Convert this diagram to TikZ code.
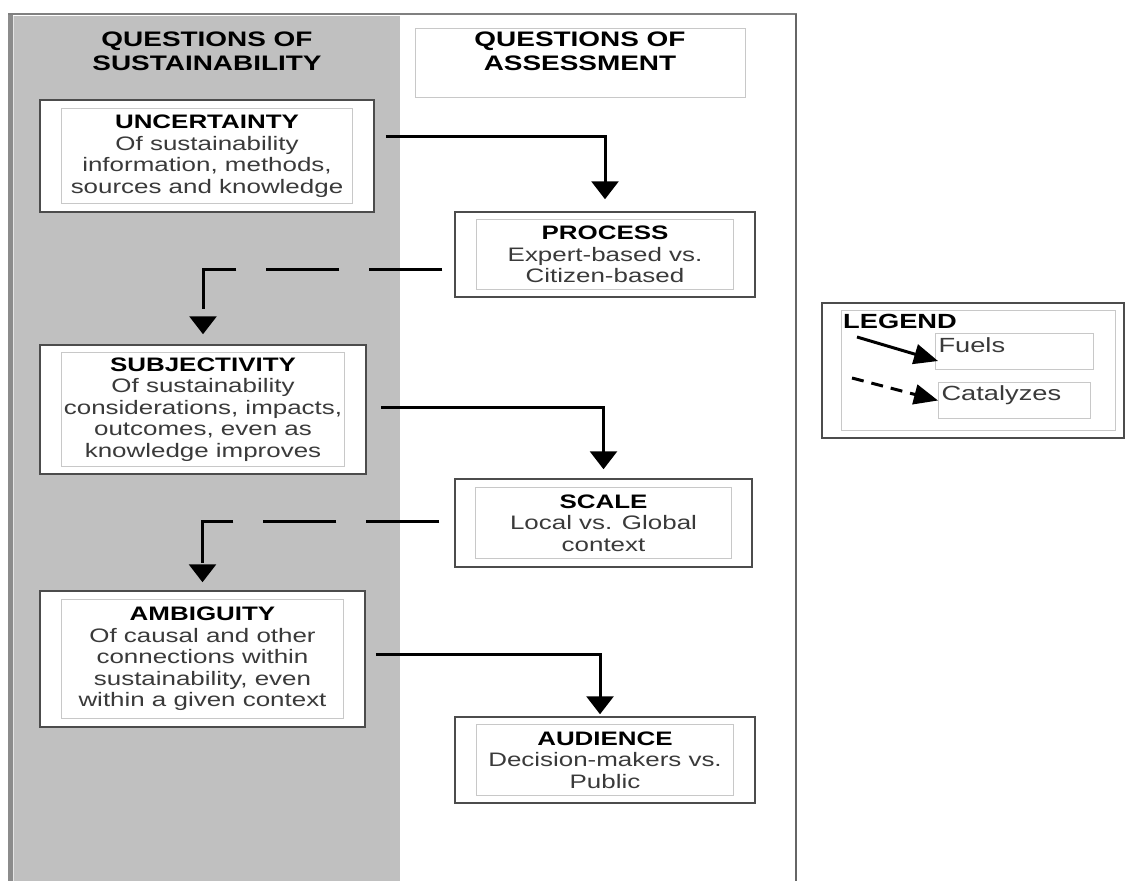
\documentclass[tikz,border=0pt]{standalone}
\usepackage{fontspec}
\setmainfont{Liberation Sans}[FakeStretch=1.33]
\usetikzlibrary{arrows.meta}

\definecolor{panelgray}{HTML}{C0C0C0}
\definecolor{framegray}{HTML}{808080}
\definecolor{linegray}{HTML}{C8C8C8}
\definecolor{textgray}{HTML}{3A3A3A}

\newcommand{\boxhead}[1]{\textcolor{black}{\bfseries #1}}

\tikzset{
  outbox/.style={draw=black!70, line width=1.5pt, fill=white, inner sep=0pt,
    align=center, text=textgray, font=\fontsize{19.5}{21.5}\selectfont},
  inbox/.style={draw=linegray, line width=1pt},
  head/.style={align=center, inner sep=0pt, font=\bfseries\fontsize{21}{24}\selectfont},
  legbox/.style={draw=linegray, line width=1pt, inner xsep=3pt, inner ysep=0pt,
    align=left, text=textgray, font=\fontsize{20.5}{24}\selectfont},
  fuel/.style={line width=3pt, -{Triangle[width=27pt,length=18pt]}},
  catal/.style={fuel, dash pattern=on 73pt off 30pt},
  legfuel/.style={line width=3pt, -{Triangle[width=20pt,length=24pt]}},
  legcat/.style={legfuel, dash pattern=on 12pt off 8pt},
}

\begin{document}
\begin{tikzpicture}[x=1pt, y=-1pt]

  % Page size of the picture
  \useasboundingbox (0,0) rectangle (1126,881);

  % Grey column for the sustainability questions
  \fill[panelgray] (13,16) rectangle (400,881);

  % Frame round both columns
  \draw[line width=5pt, black!45] (10,14) -- (10,881);
  \draw[line width=1.5pt, black!10] (13.5,16) -- (13.5,881);
  \draw[line width=2pt, framegray] (8,14) -- (797,14);
  \draw[line width=2pt, black!60] (796,14) -- (796,881);

  % Column headings
  \node[head, anchor=north] (sust) at (207,32) {QUESTIONS OF\\SUSTAINABILITY};
  \node[head, draw=linegray, line width=1pt, minimum width=330pt, minimum height=69pt,
    text depth=21.7pt] (asmt) at (580,62.5) {QUESTIONS OF\\ASSESSMENT};

  % Left column: questions of sustainability
  \node[outbox, minimum width=334pt, minimum height=112pt] (unc) at (207,156)
    {\boxhead{UNCERTAINTY}\\Of sustainability\\information, methods,\\sources and knowledge};
  \node[outbox, minimum width=326pt, minimum height=129pt] (subj) at (203,409.5)
    {\boxhead{SUBJECTIVITY}\\Of sustainability\\considerations, impacts,\\outcomes, even as\\knowledge improves};
  \node[outbox, minimum width=325pt, minimum height=136pt] (amb) at (202.5,659)
    {\boxhead{AMBIGUITY}\\Of causal and other\\connections within\\sustainability, even\\within a given context};

  % Right column: questions of assessment
  \node[outbox, minimum width=300pt, minimum height=85pt] (proc) at (605,254.5)
    {\boxhead{PROCESS}\\Expert-based vs.\\Citizen-based};
  \node[outbox, minimum width=297pt, minimum height=88pt] (scale) at (603.5,523)
    {\boxhead{SCALE}\\Local vs. Global\\context};
  \node[outbox, minimum width=300pt, minimum height=86pt] (aud) at (605,760)
    {\boxhead{AUDIENCE}\\Decision-makers vs.\\Public};

  % Thin inner frames
  \foreach \n/\dx/\dy in {unc/22/9, subj/22/8, amb/22/9, proc/22/8, scale/21/9, aud/22/8}
    \draw[inbox] ([shift={(\dx pt,-\dy pt)}]\n.north west) rectangle ([shift={(-\dx pt,\dy pt)}]\n.south east);

  % Fuels (solid) and catalyzes (dashed)
  \draw[fuel, shorten <=11pt, shorten >=12pt] ([yshift=20pt]unc.east) -| (proc.north);
  \draw[catal, shorten <=12pt, shorten >=10pt] ([yshift=-15pt]proc.west) -| (subj.north);
  \draw[fuel, shorten <=14pt, shorten >=9pt] ([yshift=2pt]subj.east) -| (scale.north);
  \draw[catal, shorten <=15pt, shorten >=8pt] ([yshift=2pt]scale.west) -| (amb.north);
  \draw[fuel, shorten <=10pt, shorten >=2pt] ([yshift=5pt]amb.east) -| ([xshift=-5pt]aud.north);

  % Legend
  \node[draw=black!70, line width=1.5pt, fill=white, minimum width=302pt, minimum height=135pt]
    (legend) at (973,370.5) {};
  \draw[inbox] ([shift={(20pt,-8pt)}]legend.north west) rectangle ([shift={(-9pt,8pt)}]legend.south east);
  \node[anchor=base west, inner sep=0pt, font=\bfseries\fontsize{20.5}{24}\selectfont]
    (legtitle) at (843,328) {LEGEND};
  \node[legbox, anchor=north west, text width=152pt, text height=19pt, text depth=17pt]
    (fuels) at (935,333) {Fuels};
  \node[legbox, anchor=north west, text width=146pt, text height=18pt, text depth=18pt]
    (catlz) at (938,382) {Catalyzes};
  \coordinate (fstart) at (857,337);
  \coordinate (cstart) at (852,378);
  \draw[legfuel] (fstart) -- ([shift={(3pt,9pt)}]fuels.south west);
  \draw[legcat] (cstart) -- (catlz.west);

\end{tikzpicture}
\end{document}
